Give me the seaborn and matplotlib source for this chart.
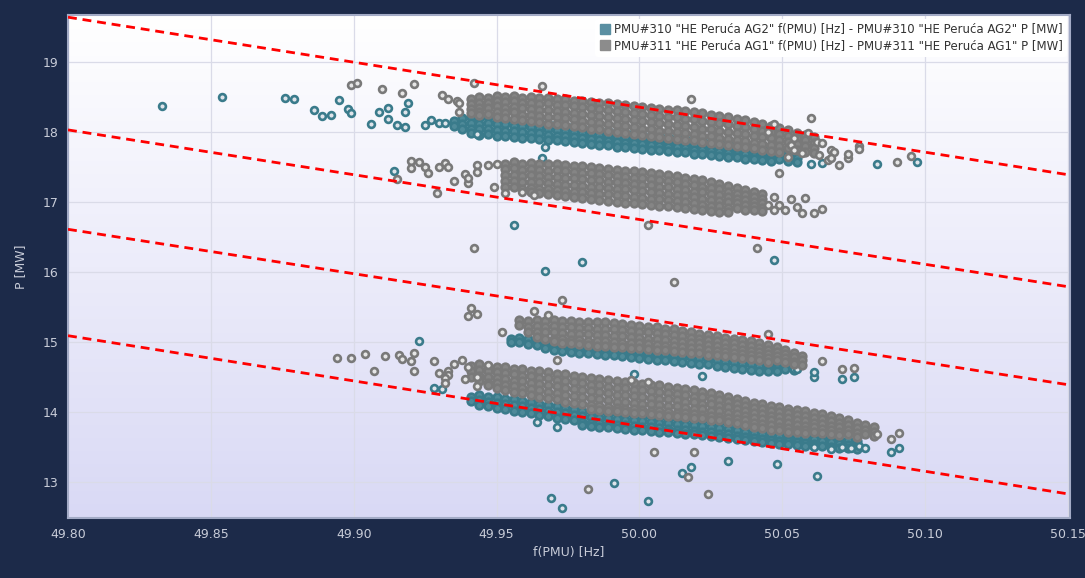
import numpy as np
import pandas as pd
import matplotlib
matplotlib.use("Agg")
import matplotlib.pyplot as plt
from matplotlib.colors import LinearSegmentedColormap
from matplotlib.lines import Line2D
import seaborn as sns

# ---------------- DATA ----------------
series_names = [
    'PMU#310 "HE Peruća AG2" f(PMU) [Hz] - PMU#310 "HE Peruća AG2" P [MW]',
    'PMU#311 "HE Peruća AG1" f(PMU) [Hz] - PMU#311 "HE Peruća AG1" P [MW]',
]
x_ticks = [49.80, 49.85, 49.90, 49.95, 50.00, 50.05, 50.10, 50.15]
y_ticks = [13, 14, 15, 16, 17, 18, 19]

# red dashed reference lines: (f at left, f at right), P at both ends
ref_f = [49.80, 50.15]
ref_line_1 = [19.64, 17.39]
ref_line_2 = [18.03, 15.79]
ref_line_3 = [16.61, 14.39]
ref_line_4 = [15.09, 12.83]

# dense bands, written as columns: (f [Hz], [P values in MW])
ag2_band_upper = [
    (49.935, [18.16, 18.09]), (49.938, [18.20, 18.12, 18.04]),
    (49.941, [18.21, 18.13, 18.05, 17.98]), (49.944, [18.20, 18.12, 18.04, 17.96]),
    (49.947, [18.21, 18.13, 18.05, 17.97]), (49.950, [18.19, 18.11, 18.03, 17.95]),
    (49.953, [18.19, 18.11, 18.02, 17.94]), (49.956, [18.17, 18.09, 18.01, 17.93]),
    (49.959, [18.16, 18.08, 18.00, 17.92]), (49.962, [18.15, 18.07, 17.99, 17.91]),
    (49.965, [18.14, 18.06, 17.98, 17.90]), (49.968, [18.12, 18.04, 17.96, 17.89]),
    (49.971, [18.11, 18.03, 17.95, 17.88]), (49.974, [18.09, 18.01, 17.94, 17.87]),
    (49.977, [18.08, 18.00, 17.93, 17.86]), (49.980, [18.06, 17.99, 17.91, 17.84]),
    (49.983, [18.05, 17.97, 17.90, 17.83]), (49.986, [18.03, 17.96, 17.89, 17.82]),
    (49.989, [18.02, 17.95, 17.87, 17.81]), (49.992, [18.00, 17.93, 17.86, 17.79]),
    (49.995, [17.99, 17.92, 17.85, 17.78]), (49.998, [17.98, 17.91, 17.84, 17.77]),
    (50.001, [17.96, 17.89, 17.83, 17.76]), (50.004, [17.95, 17.88, 17.81, 17.75]),
    (50.007, [17.94, 17.87, 17.80, 17.74]), (50.010, [17.93, 17.86, 17.79, 17.73]),
    (50.013, [17.91, 17.84, 17.78, 17.72]), (50.016, [17.90, 17.83, 17.77, 17.71]),
    (50.019, [17.88, 17.82, 17.75, 17.69]), (50.022, [17.87, 17.80, 17.74, 17.68]),
    (50.025, [17.86, 17.79, 17.73, 17.67]), (50.028, [17.84, 17.78, 17.72, 17.66]),
    (50.031, [17.83, 17.76, 17.70, 17.65]), (50.034, [17.81, 17.75, 17.69, 17.64]),
    (50.037, [17.80, 17.74, 17.68, 17.62]), (50.040, [17.78, 17.72, 17.66, 17.61]),
    (50.043, [17.77, 17.71, 17.65, 17.60]), (50.046, [17.75, 17.69, 17.63, 17.59]),
    (50.049, [17.73, 17.67, 17.61]), (50.052, [17.71, 17.65, 17.59]),
    (50.055, [17.70, 17.63, 17.57]),
]
ag2_band_mid = [
    (49.955, [15.05, 15.00]), (49.958, [15.06, 15.00]), (49.961, [15.04, 14.97]),
    (49.964, [15.03, 14.96]), (49.967, [15.02, 14.95, 14.91]), (49.970, [15.01, 14.94, 14.89]),
    (49.973, [15.00, 14.93, 14.87]), (49.976, [14.99, 14.92, 14.86]), (49.979, [14.98, 14.91, 14.85]),
    (49.982, [14.97, 14.90, 14.84]), (49.985, [14.96, 14.89, 14.83]), (49.988, [14.95, 14.88, 14.82]),
    (49.991, [14.94, 14.87, 14.81]), (49.994, [14.94, 14.86, 14.80]), (49.997, [14.93, 14.85, 14.78]),
    (50.000, [14.92, 14.84, 14.77]), (50.003, [14.91, 14.83, 14.76]), (50.006, [14.90, 14.82, 14.75]),
    (50.009, [14.89, 14.81, 14.74]), (50.012, [14.88, 14.80, 14.73]), (50.015, [14.87, 14.79, 14.71]),
    (50.018, [14.86, 14.78, 14.70]), (50.021, [14.85, 14.77, 14.69]), (50.024, [14.83, 14.75, 14.68]),
    (50.027, [14.82, 14.74, 14.66]), (50.030, [14.80, 14.72, 14.65]), (50.033, [14.79, 14.71, 14.63]),
    (50.036, [14.77, 14.69, 14.62]), (50.039, [14.76, 14.68, 14.60]), (50.042, [14.74, 14.66, 14.59]),
    (50.045, [14.72, 14.65, 14.58]), (50.048, [14.70, 14.63, 14.58]), (50.051, [14.68, 14.61]),
    (50.054, [14.66, 14.60]),
]
ag2_band_lower = [
    (49.941, [14.22, 14.16]), (49.944, [14.24, 14.17, 14.10]), (49.947, [14.22, 14.15, 14.08]),
    (49.950, [14.21, 14.13, 14.06]), (49.953, [14.19, 14.11, 14.04]), (49.956, [14.18, 14.10, 14.02]),
    (49.959, [14.16, 14.08, 14.00]), (49.962, [14.14, 14.06, 13.98]), (49.965, [14.12, 14.04, 13.96]),
    (49.968, [14.10, 14.02, 13.94]), (49.971, [14.08, 14.00, 13.92]), (49.974, [14.06, 13.98, 13.90]),
    (49.977, [14.04, 13.96, 13.88]), (49.980, [14.02, 13.94, 13.86, 13.82]),
    (49.983, [14.01, 13.93, 13.85, 13.80]), (49.986, [14.00, 13.92, 13.84, 13.79]),
    (49.989, [13.99, 13.91, 13.83, 13.78]), (49.992, [13.98, 13.90, 13.82, 13.77]),
    (49.995, [13.97, 13.89, 13.81, 13.76]), (49.998, [13.96, 13.88, 13.80, 13.75]),
    (50.001, [13.95, 13.87, 13.79, 13.74]), (50.004, [13.94, 13.86, 13.78, 13.73]),
    (50.007, [13.93, 13.85, 13.77, 13.72]), (50.010, [13.92, 13.84, 13.76, 13.71]),
    (50.013, [13.91, 13.83, 13.75, 13.70]), (50.016, [13.90, 13.82, 13.74, 13.69]),
    (50.019, [13.89, 13.81, 13.73, 13.68]), (50.022, [13.88, 13.80, 13.72, 13.67]),
    (50.025, [13.87, 13.79, 13.71, 13.66]), (50.028, [13.86, 13.77, 13.69, 13.65]),
    (50.031, [13.84, 13.76, 13.68, 13.63]), (50.034, [13.82, 13.74, 13.66, 13.61]),
    (50.037, [13.80, 13.72, 13.64, 13.60]), (50.040, [13.78, 13.70, 13.63, 13.58]),
    (50.043, [13.76, 13.68, 13.61, 13.57]), (50.046, [13.74, 13.67, 13.60, 13.56]),
    (50.049, [13.73, 13.66, 13.59, 13.55]), (50.052, [13.72, 13.65, 13.58, 13.54]),
    (50.055, [13.71, 13.64, 13.57, 13.53]), (50.058, [13.70, 13.63, 13.56, 13.52]),
    (50.061, [13.68, 13.61, 13.54, 13.51]), (50.064, [13.66, 13.59, 13.52]),
    (50.067, [13.64, 13.57, 13.50]), (50.070, [13.62, 13.55, 13.49]),
    (50.073, [13.60, 13.53, 13.48]), (50.076, [13.58, 13.52, 13.47]),
]
ag2_scattered = [
    (49.833, 18.37), (49.854, 18.50), (49.876, 18.49), (49.879, 18.47), (49.886, 18.31),
    (49.889, 18.23), (49.892, 18.24), (49.895, 18.46), (49.898, 18.33), (49.899, 18.27),
    (49.909, 18.29), (49.912, 18.34), (49.912, 18.19), (49.906, 18.11), (49.915, 18.10),
    (49.918, 18.07), (49.919, 18.41), (49.918, 18.29), (49.925, 18.10), (49.927, 18.17),
    (49.930, 18.13), (49.932, 18.13), (49.943, 17.97), (49.956, 16.67), (49.967, 17.79),
    (49.966, 17.63), (50.083, 17.54), (50.097, 17.57), (50.060, 17.54), (50.064, 17.56),
    (50.047, 16.17), (49.980, 16.14), (49.967, 16.01), (49.914, 17.44), (49.923, 15.01),
    (49.928, 14.34), (49.931, 14.33), (50.022, 14.51), (49.998, 14.54), (50.061, 14.50),
    (50.061, 14.57), (50.071, 14.47), (50.075, 14.50), (50.054, 14.61), (50.055, 14.61),
    (49.964, 13.86), (49.971, 13.79), (50.048, 13.26), (50.062, 13.09), (50.018, 13.21),
    (50.015, 13.13), (50.031, 13.30), (50.003, 12.73), (49.991, 12.99), (49.969, 12.77),
    (49.973, 12.63), (50.088, 13.43), (50.091, 13.49), (50.067, 13.47), (50.071, 13.50),
    (50.074, 13.49), (50.077, 13.51), (50.079, 13.49), (50.061, 13.50),
]

ag1_band_upper = [
    (49.941, [18.47, 18.40, 18.33, 18.27]), (49.944, [18.50, 18.42, 18.35, 18.28, 18.24]),
    (49.947, [18.49, 18.41, 18.34, 18.26]), (49.950, [18.52, 18.44, 18.37, 18.29, 18.21]),
    (49.953, [18.50, 18.43, 18.35, 18.27, 18.20]), (49.956, [18.51, 18.44, 18.36, 18.28, 18.19]),
    (49.959, [18.49, 18.42, 18.34, 18.25, 18.17]), (49.962, [18.50, 18.41, 18.33, 18.24, 18.16]),
    (49.965, [18.48, 18.40, 18.32, 18.23, 18.14]), (49.968, [18.49, 18.41, 18.31, 18.22, 18.12]),
    (49.971, [18.47, 18.39, 18.30, 18.21, 18.11]), (49.974, [18.47, 18.38, 18.29, 18.20, 18.10]),
    (49.977, [18.45, 18.37, 18.27, 18.18, 18.08]), (49.980, [18.45, 18.36, 18.26, 18.16, 18.07]),
    (49.983, [18.43, 18.34, 18.24, 18.15, 18.05]), (49.986, [18.42, 18.33, 18.23, 18.13, 18.04]),
    (49.989, [18.41, 18.32, 18.22, 18.12, 18.02]), (49.992, [18.40, 18.30, 18.20, 18.10, 18.00]),
    (49.995, [18.38, 18.29, 18.19, 18.08, 17.99]), (49.998, [18.37, 18.27, 18.17, 18.07, 17.97]),
    (50.001, [18.36, 18.26, 18.16, 18.05, 17.96]), (50.004, [18.35, 18.25, 18.14, 18.04, 17.94]),
    (50.007, [18.33, 18.23, 18.13, 18.02, 17.93]), (50.010, [18.32, 18.22, 18.11, 18.01, 17.92]),
    (50.013, [18.31, 18.21, 18.10, 18.00, 17.90]), (50.016, [18.30, 18.19, 18.08, 17.98, 17.89]),
    (50.019, [18.28, 18.18, 18.07, 17.97, 17.88]), (50.022, [18.27, 18.16, 18.05, 17.95, 17.86]),
    (50.025, [18.25, 18.14, 18.04, 17.94, 17.85]), (50.028, [18.23, 18.13, 18.02, 17.92, 17.83]),
    (50.031, [18.21, 18.11, 18.00, 17.90, 17.81]), (50.034, [18.19, 18.09, 17.99, 17.89, 17.80]),
    (50.037, [18.17, 18.07, 17.97, 17.87, 17.78]), (50.040, [18.15, 18.05, 17.95, 17.85, 17.77]),
    (50.043, [18.12, 18.02, 17.93, 17.83, 17.75]), (50.046, [18.09, 18.00, 17.91, 17.82, 17.73]),
    (50.049, [18.06, 17.97, 17.88, 17.80, 17.71]), (50.052, [18.03, 17.94, 17.86, 17.77]),
    (50.055, [17.99, 17.91, 17.83, 17.75]), (50.058, [17.96, 17.88, 17.80, 17.72]),
    (50.061, [17.93, 17.85, 17.77, 17.70]),
]
ag1_band_second = [
    (49.953, [17.55, 17.47, 17.38, 17.30, 17.22]), (49.956, [17.57, 17.48, 17.39, 17.30, 17.21]),
    (49.959, [17.55, 17.46, 17.37, 17.28, 17.19]), (49.962, [17.56, 17.47, 17.38, 17.29, 17.20, 17.15]),
    (49.965, [17.55, 17.46, 17.37, 17.28, 17.19, 17.13]), (49.968, [17.54, 17.45, 17.36, 17.27, 17.18, 17.11]),
    (49.971, [17.55, 17.46, 17.36, 17.26, 17.17, 17.10]), (49.974, [17.53, 17.44, 17.35, 17.25, 17.16, 17.08]),
    (49.977, [17.52, 17.43, 17.34, 17.24, 17.15, 17.07]), (49.980, [17.51, 17.42, 17.33, 17.23, 17.14, 17.06]),
    (49.983, [17.50, 17.41, 17.32, 17.22, 17.13, 17.04]), (49.986, [17.49, 17.40, 17.31, 17.21, 17.12, 17.03]),
    (49.989, [17.47, 17.38, 17.29, 17.20, 17.11, 17.02]), (49.992, [17.46, 17.37, 17.28, 17.19, 17.10, 17.00]),
    (49.995, [17.45, 17.36, 17.27, 17.18, 17.09, 16.99]), (49.998, [17.44, 17.35, 17.26, 17.17, 17.07, 16.98]),
    (50.001, [17.43, 17.34, 17.25, 17.16, 17.06, 16.97]), (50.004, [17.42, 17.33, 17.24, 17.15, 17.05, 16.96]),
    (50.007, [17.40, 17.31, 17.22, 17.13, 17.04, 16.95]), (50.010, [17.39, 17.30, 17.21, 17.12, 17.03, 16.94]),
    (50.013, [17.37, 17.28, 17.19, 17.10, 17.01, 16.93]), (50.016, [17.35, 17.26, 17.17, 17.08, 17.00, 16.91]),
    (50.019, [17.33, 17.24, 17.15, 17.07, 16.98, 16.90]), (50.022, [17.31, 17.22, 17.14, 17.05, 16.96, 16.88]),
    (50.025, [17.29, 17.20, 17.12, 17.03, 16.95, 16.87]), (50.028, [17.26, 17.18, 17.10, 17.02, 16.94, 16.86]),
    (50.031, [17.23, 17.15, 17.07, 17.00, 16.92, 16.86]), (50.034, [17.20, 17.12, 17.05, 16.98, 16.91]),
    (50.037, [17.17, 17.10, 17.03, 16.96, 16.89]), (50.040, [17.14, 17.07, 17.00, 16.94, 16.88]),
    (50.043, [17.12, 17.05, 16.98, 16.92, 16.87]),
]
ag1_band_mid = [
    (49.958, [15.31, 15.24]), (49.961, [15.30, 15.22, 15.14]), (49.964, [15.31, 15.23, 15.15, 15.07]),
    (49.967, [15.30, 15.22, 15.14, 15.05]), (49.970, [15.31, 15.23, 15.14, 15.05, 15.01]),
    (49.973, [15.30, 15.22, 15.13, 15.04, 14.99]), (49.976, [15.30, 15.21, 15.12, 15.03, 14.98]),
    (49.979, [15.29, 15.20, 15.11, 15.03, 14.97]), (49.982, [15.29, 15.20, 15.11, 15.02, 14.96]),
    (49.985, [15.28, 15.19, 15.10, 15.01, 14.95]), (49.988, [15.28, 15.19, 15.10, 15.01, 14.94]),
    (49.991, [15.27, 15.18, 15.09, 15.00, 14.93]), (49.994, [15.26, 15.17, 15.08, 14.99, 14.93]),
    (49.997, [15.25, 15.16, 15.07, 14.99, 14.92]), (50.000, [15.23, 15.15, 15.06, 14.98, 14.91]),
    (50.003, [15.22, 15.14, 15.05, 14.97, 14.90]), (50.006, [15.21, 15.13, 15.04, 14.96, 14.89]),
    (50.009, [15.19, 15.11, 15.03, 14.95, 14.88]), (50.012, [15.18, 15.10, 15.02, 14.94, 14.87]),
    (50.015, [15.16, 15.08, 15.00, 14.93, 14.86]), (50.018, [15.14, 15.06, 14.99, 14.92, 14.85]),
    (50.021, [15.12, 15.05, 14.98, 14.91, 14.84]), (50.024, [15.10, 15.03, 14.96, 14.89, 14.82]),
    (50.027, [15.08, 15.01, 14.94, 14.87, 14.81]), (50.030, [15.06, 14.99, 14.92, 14.86, 14.80]),
    (50.033, [15.05, 14.98, 14.91, 14.84, 14.78]), (50.036, [15.03, 14.96, 14.89, 14.83, 14.77]),
    (50.039, [15.01, 14.94, 14.87, 14.81, 14.76]), (50.042, [14.99, 14.92, 14.86, 14.80, 14.74]),
    (50.045, [14.96, 14.89, 14.83, 14.77, 14.72]), (50.048, [14.93, 14.86, 14.80, 14.74]),
    (50.051, [14.89, 14.83, 14.77, 14.71]), (50.054, [14.85, 14.79, 14.72, 14.68]),
    (50.057, [14.80, 14.74, 14.67]),
]
ag1_band_lower = [
    (49.941, [14.66, 14.58, 14.50]), (49.944, [14.68, 14.60, 14.52, 14.45]),
    (49.947, [14.66, 14.58, 14.50, 14.42, 14.38]), (49.950, [14.65, 14.57, 14.49, 14.41, 14.34]),
    (49.953, [14.64, 14.56, 14.47, 14.39, 14.31]), (49.956, [14.62, 14.54, 14.45, 14.37, 14.29]),
    (49.959, [14.61, 14.52, 14.44, 14.35, 14.27]), (49.962, [14.59, 14.51, 14.42, 14.33, 14.25]),
    (49.965, [14.58, 14.49, 14.40, 14.31, 14.22]), (49.968, [14.57, 14.48, 14.39, 14.29, 14.20]),
    (49.971, [14.55, 14.46, 14.37, 14.27, 14.18]), (49.974, [14.54, 14.44, 14.35, 14.25, 14.15]),
    (49.977, [14.52, 14.43, 14.33, 14.23, 14.13]), (49.980, [14.50, 14.41, 14.31, 14.21, 14.11]),
    (49.983, [14.49, 14.39, 14.30, 14.20, 14.10, 14.05]), (49.986, [14.47, 14.38, 14.28, 14.18, 14.08, 14.03]),
    (49.989, [14.46, 14.36, 14.27, 14.17, 14.07, 14.02]), (49.992, [14.44, 14.35, 14.25, 14.15, 14.06, 14.01]),
    (49.995, [14.43, 14.34, 14.24, 14.14, 14.05, 14.00]), (49.998, [14.42, 14.32, 14.23, 14.13, 14.04, 13.99]),
    (50.001, [14.40, 14.31, 14.21, 14.12, 14.03, 13.98]), (50.004, [14.39, 14.30, 14.20, 14.11, 14.02, 13.97]),
    (50.007, [14.38, 14.28, 14.19, 14.10, 14.01, 13.96]), (50.010, [14.36, 14.27, 14.18, 14.09, 14.00, 13.95]),
    (50.013, [14.35, 14.26, 14.17, 14.08, 13.99, 13.94]), (50.016, [14.33, 14.24, 14.15, 14.06, 13.98, 13.93]),
    (50.019, [14.31, 14.22, 14.14, 14.05, 13.97, 13.92]), (50.022, [14.29, 14.21, 14.12, 14.04, 13.96, 13.91]),
    (50.025, [14.27, 14.19, 14.11, 14.02, 13.94, 13.89]), (50.028, [14.25, 14.17, 14.09, 14.01, 13.93, 13.88]),
    (50.031, [14.22, 14.14, 14.07, 13.99, 13.91, 13.86]), (50.034, [14.19, 14.12, 14.05, 13.97, 13.90, 13.84]),
    (50.037, [14.16, 14.09, 14.02, 13.95, 13.88, 13.82]), (50.040, [14.13, 14.06, 13.99, 13.92, 13.85, 13.79]),
    (50.043, [14.11, 14.04, 13.97, 13.90, 13.83, 13.77]), (50.046, [14.09, 14.02, 13.95, 13.88, 13.81, 13.75]),
    (50.049, [14.07, 14.00, 13.93, 13.86, 13.79, 13.74]), (50.052, [14.05, 13.98, 13.91, 13.84, 13.77, 13.72]),
    (50.055, [14.03, 13.96, 13.89, 13.82, 13.75, 13.71]), (50.058, [14.01, 13.94, 13.87, 13.80, 13.74, 13.70]),
    (50.061, [13.99, 13.92, 13.85, 13.78, 13.72]), (50.064, [13.97, 13.90, 13.83, 13.76, 13.70]),
    (50.067, [13.94, 13.87, 13.80, 13.74, 13.68]), (50.070, [13.91, 13.84, 13.78, 13.72, 13.67]),
    (50.073, [13.88, 13.81, 13.75, 13.69]), (50.076, [13.84, 13.77, 13.70, 13.65]),
    (50.079, [13.82, 13.74, 13.68]), (50.082, [13.79, 13.72, 13.66]),
]
ag1_scattered = [
    (49.899, 18.67), (49.901, 18.70), (49.910, 18.61), (49.917, 18.56), (49.921, 18.69),
    (49.931, 18.53), (49.933, 18.47), (49.936, 18.44), (49.937, 18.41), (49.937, 18.29),
    (49.942, 18.70), (49.966, 18.66), (50.018, 18.47),
    (50.060, 18.20), (50.047, 18.11), (50.045, 18.00), (50.059, 17.99), (50.062, 17.86),
    (50.064, 17.84), (50.077, 17.80), (50.077, 17.76), (50.095, 17.66), (50.090, 17.57),
    (50.070, 17.53), (50.073, 17.63), (50.073, 17.69), (50.067, 17.74), (50.068, 17.71),
    (50.066, 17.60), (50.067, 17.63), (50.063, 17.67), (50.054, 17.91), (50.053, 17.81),
    (50.054, 17.74), (50.052, 17.64), (50.057, 17.70), (50.049, 17.41),
    (49.920, 17.59), (49.923, 17.57), (49.925, 17.50), (49.920, 17.49), (49.926, 17.41),
    (49.930, 17.50), (49.932, 17.56), (49.933, 17.50), (49.939, 17.40), (49.940, 17.27),
    (49.940, 17.34), (49.943, 17.53), (49.943, 17.43), (49.947, 17.53), (49.950, 17.54),
    (49.949, 17.21), (49.935, 17.30), (49.929, 17.13), (49.915, 17.33), (49.953, 17.13),
    (49.959, 17.14), (49.963, 17.10),
    (50.047, 17.07), (50.058, 17.06), (50.053, 17.04), (50.055, 16.93), (50.057, 16.84),
    (50.061, 16.84), (50.064, 16.90), (50.045, 16.96), (50.049, 16.96), (50.051, 16.89),
    (50.047, 16.89),
    (49.942, 16.34), (50.003, 16.67), (50.012, 15.86), (50.041, 16.34),
    (49.941, 15.49), (49.940, 15.37), (49.943, 15.40), (49.973, 15.60), (49.963, 15.44),
    (49.968, 15.39), (49.952, 15.14), (49.971, 14.74), (50.045, 15.11),
    (49.894, 14.77), (49.899, 14.77), (49.904, 14.83), (49.911, 14.80), (49.916, 14.81),
    (49.917, 14.76), (49.921, 14.84), (49.920, 14.73), (49.921, 14.59), (49.907, 14.59),
    (49.928, 14.73), (49.935, 14.69), (49.938, 14.74), (49.940, 14.64), (49.930, 14.56),
    (49.933, 14.59), (49.933, 14.53), (49.932, 14.49), (49.932, 14.41), (49.939, 14.47),
    (49.943, 14.50), (49.943, 14.37), (49.947, 14.67),
    (50.003, 14.43), (49.997, 14.46), (50.064, 14.73), (50.071, 14.61), (50.075, 14.63),
    (50.005, 13.43), (50.019, 13.43), (50.017, 13.07), (50.024, 12.83), (49.982, 12.90),
    (50.083, 13.69), (50.088, 13.61), (50.091, 13.70),
]

# ---------------- BUILD TABLES ----------------
def columns_to_points(cols):
    return [(f, p) for f, ps in cols for p in ps]

df_ag2_dense = pd.DataFrame(columns_to_points(ag2_band_upper) + columns_to_points(ag2_band_mid)
                            + columns_to_points(ag2_band_lower), columns=["f", "P"])
df_ag2_loose = pd.DataFrame(ag2_scattered, columns=["f", "P"])
df_ag1_dense = pd.DataFrame(columns_to_points(ag1_band_upper) + columns_to_points(ag1_band_second)
                            + columns_to_points(ag1_band_mid) + columns_to_points(ag1_band_lower),
                            columns=["f", "P"])
df_ag1_loose = pd.DataFrame(ag1_scattered, columns=["f", "P"])

# ---------------- STYLE ----------------
bg = "#1c2a49"
txt = "#c8ccd8"
teal = "#3a7b8b"
grey = "#797979"

sns.set_theme(style="white")
plt.rcParams["font.family"] = ["DejaVu Sans"]

W, H = 1085, 578
fig = plt.figure(figsize=(W / 100, H / 100), dpi=100, facecolor=bg)
left_px, right_px, top_px, bot_px = 68, 1070, 15, 518
ax = fig.add_axes([left_px / W, 1 - bot_px / H, (right_px - left_px) / W, (bot_px - top_px) / H])

# gradient plot background
cmap = LinearSegmentedColormap.from_list("bgrad", ["#d9d9f5", "#ffffff"])
ax.imshow(np.linspace(0, 1, 256).reshape(-1, 1), extent=[0, 1, 0, 1], transform=ax.transAxes,
          cmap=cmap, aspect="auto", origin="lower", zorder=0)

common = dict(ax=ax, x="f", y="P", marker="o", linewidth=1.9, legend=False)
sns.scatterplot(data=df_ag2_dense, s=30, facecolor="#4f8a99", edgecolor=teal, zorder=2, **common)
sns.scatterplot(data=df_ag2_loose, s=24, facecolor="#dfe4ea", edgecolor=teal, zorder=2, **common)
sns.scatterplot(data=df_ag1_dense, s=30, facecolor="#858585", edgecolor=grey, zorder=2.1, **common)
sns.scatterplot(data=df_ag1_loose, s=24, facecolor="#e6e6e6", edgecolor=grey, zorder=2.1, **common)

for ln in [ref_line_1, ref_line_2, ref_line_3, ref_line_4]:
    sns.lineplot(x=ref_f, y=ln, ax=ax, color="#ff0000", linewidth=2.0,
                 dashes=False, zorder=3, legend=False)
for line in ax.lines:
    line.set_dashes((3.2, 2.1))

ax.set_xlim(49.80, 50.15 + 2 / 2857)
ax.set_ylim(19 - (bot_px - 62) / 70, 19 + (62 - top_px) / 70)
ax.set_xticks(x_ticks)
ax.set_xticklabels([f"{v:.2f}" for v in x_ticks])
ax.set_yticks(y_ticks)
ax.set_yticklabels([str(v) for v in y_ticks])
ax.grid(True, color="#dadbe8", linewidth=0.9)
ax.set_axisbelow(True)
for g in ax.get_xgridlines() + ax.get_ygridlines():
    g.set_zorder(0.5)
ax.tick_params(axis="both", colors=txt, labelsize=9, length=0, pad=7)
for sp in ax.spines.values():
    sp.set_color("#a3abc6")
    sp.set_linewidth(1.5)

ax.set_xlabel("f(PMU) [Hz]", color=txt, fontsize=9)
ax.xaxis.set_label_coords(0.5, -0.056)
ax.set_ylabel("P [MW]", color=txt, fontsize=9)
ax.yaxis.set_label_coords(-0.041, 0.5)

handles = [
    Line2D([], [], marker="s", linestyle="", markersize=7.5, markerfacecolor="#5a8fa2",
           markeredgecolor="#5a8fa2"),
    Line2D([], [], marker="s", linestyle="", markersize=7.5, markerfacecolor="#8c8c8c",
           markeredgecolor="#8c8c8c"),
]
leg = ax.legend(handles, series_names, loc="upper right", bbox_to_anchor=(0.999, 0.997),
                fontsize=8.5, frameon=True, facecolor="white", edgecolor="none", framealpha=1,
                handletextpad=0.2, handlelength=1.0, borderpad=0.35, labelspacing=0.3,
                borderaxespad=0.2)
for t in leg.get_texts():
    t.set_color("#333333")
leg.set_zorder(5)

fig.savefig("out.png", dpi=100, facecolor=bg)
